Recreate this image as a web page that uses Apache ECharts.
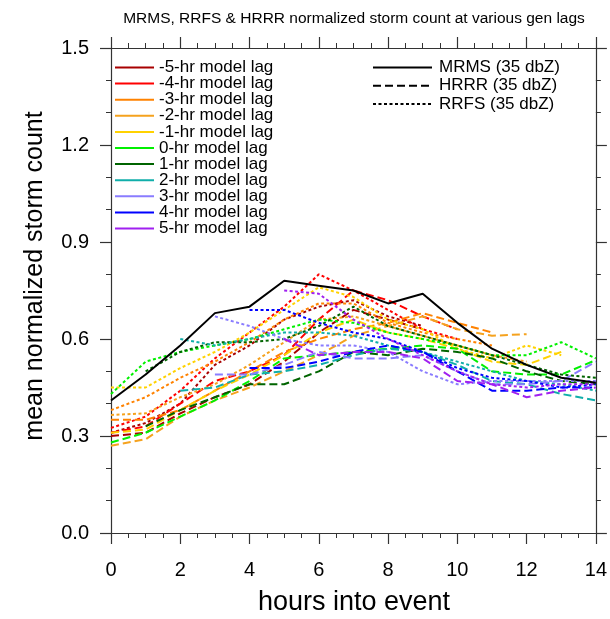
<!DOCTYPE html>
<html>
<head>
<meta charset="utf-8">
<script src="https://cdn.jsdelivr.net/npm/echarts@6/dist/echarts.min.js"></script>
<style>
html,body{margin:0;padding:0;background:#fff;}
#chart{width:610px;height:619px;}
</style>
</head>
<body>
<div id="chart"></div>
<script>
// ---------------- data ----------------
const hours = [0,1,2,3,4,5,6,7,8,9,10,11,12,13,14];
const mrms = [0.41,0.49,0.58,0.68,0.70,0.78,0.765,0.75,0.71,0.74,0.65,0.57,0.52,0.48,0.465];

const hrrrLagM5 = [0.30,0.31,0.37,0.42,0.46,0.53,0.62,0.69,0.66,0.63,null,null,null,null,null];
const rrfsLagM5 = [0.31,0.34,0.40,0.52,0.58,0.66,0.70,0.72,0.67,0.64,null,null,null,null,null];
const hrrrLagM4 = [0.31,0.33,0.40,0.47,0.50,0.55,0.66,0.75,0.72,0.67,0.63,null,null,null,null];
const rrfsLagM4 = [0.325,0.36,0.44,0.54,0.62,0.70,0.80,0.75,0.69,0.63,0.60,null,null,null,null];
const hrrrLagM3 = [0.35,0.35,0.38,0.44,0.50,0.56,0.60,0.63,0.65,0.68,0.65,0.62,null,null,null];
const rrfsLagM3 = [0.38,0.42,0.48,0.53,0.59,0.66,0.71,0.71,0.65,0.62,0.60,0.58,null,null,null];
const hrrrLagM2 = [0.27,0.29,0.36,0.41,0.45,0.50,0.55,0.61,0.64,0.67,0.63,0.61,0.615,null,null];
const rrfsLagM2 = [0.365,0.37,0.42,0.46,0.52,0.59,0.66,0.67,0.64,0.61,0.58,0.55,0.53,null,null];
const hrrrLagM1 = [0.31,0.32,0.38,0.44,0.49,0.55,0.62,0.66,0.62,0.60,0.57,0.53,0.52,0.56,null];
const rrfsLagM1 = [0.45,0.45,0.51,0.56,0.62,0.69,0.76,0.73,0.66,0.63,0.57,0.54,0.58,0.55,null];
const hrrrLag0  = [0.28,0.31,0.36,0.41,0.47,0.54,0.55,0.56,0.57,0.58,0.57,0.50,0.49,0.49,0.535];
const rrfsLag0  = [0.43,0.53,0.56,0.58,0.60,0.63,0.66,0.65,0.62,0.60,0.58,0.55,0.55,0.59,0.54];
const hrrrLag1  = [null,0.33,0.38,0.42,0.46,0.46,0.50,0.56,0.55,0.57,0.56,0.54,0.50,0.47,0.46];
const rrfsLag1  = [null,0.50,0.56,0.59,0.59,0.60,0.64,0.70,0.64,0.61,0.58,0.55,0.52,0.49,0.48];
const hrrrLag2  = [null,null,0.44,0.45,0.49,0.50,0.52,0.55,0.57,0.56,0.52,0.47,0.46,0.43,0.41];
const rrfsLag2  = [null,null,0.60,0.58,0.60,0.62,0.62,0.61,0.58,0.56,0.53,0.50,0.47,0.46,0.44];
const hrrrLag3  = [null,null,null,0.49,0.49,0.52,0.56,0.54,0.54,0.55,0.50,0.46,0.46,0.47,0.53];
const rrfsLag3  = [null,null,null,0.67,0.64,0.60,0.58,0.58,0.56,0.50,0.46,0.47,0.47,0.47,0.47];
const hrrrLag4  = [null,null,null,null,0.51,0.51,0.53,0.56,0.58,0.56,0.50,0.44,0.44,0.45,0.45];
const rrfsLag4  = [null,null,null,null,0.69,0.69,0.65,0.62,0.60,0.56,0.51,0.48,0.47,0.45,0.46];
const hrrrLag5  = [null,null,null,null,null,0.60,0.55,0.56,0.56,0.54,0.47,0.46,0.42,0.44,0.45];
const rrfsLag5  = [null,null,null,null,null,0.75,0.74,0.66,0.60,0.55,0.50,0.46,0.45,0.46,0.46];

const lagLabels = ['-5-hr model lag','-4-hr model lag','-3-hr model lag','-2-hr model lag','-1-hr model lag',
  '0-hr model lag','1-hr model lag','2-hr model lag','3-hr model lag','4-hr model lag','5-hr model lag'];
const hrrrByLag = [hrrrLagM5,hrrrLagM4,hrrrLagM3,hrrrLagM2,hrrrLagM1,hrrrLag0,hrrrLag1,hrrrLag2,hrrrLag3,hrrrLag4,hrrrLag5];
const rrfsByLag = [rrfsLagM5,rrfsLagM4,rrfsLagM3,rrfsLagM2,rrfsLagM1,rrfsLag0,rrfsLag1,rrfsLag2,rrfsLag3,rrfsLag4,rrfsLag5];
const modelLabels = ['MRMS (35 dbZ)','HRRR (35 dbZ)','RRFS (35 dbZ)'];
const xTicks = [0,2,4,6,8,10,12,14];
const yTicks = [0.0,0.3,0.6,0.9,1.2,1.5];

// ---------------- styles ----------------
const lagColors = ['#A80000','#FF0000','#FF8200','#F5A21E','#FFD200','#00F000','#006400','#10AEAA','#8A7CFF','#0000FF','#A020F0'];
const DASH = [8,4];
const DOT = [3,2.5];
const FONT = 'Liberation Sans, Arial, Helvetica, sans-serif';

function pts(arr){ return hours.map((h,i)=>[h,arr[i]]).filter(p=>p[1]!==null); }

const series = [];
series.push({name:modelLabels[0], type:'line', data:pts(mrms), symbol:'none', xAxisIndex:0, yAxisIndex:0,
  itemStyle:{color:'#000'}, lineStyle:{color:'#000', width:2, type:'solid'}, z:5});
for (let i=0;i<lagLabels.length;i++){
  series.push({name:'HRRR '+lagLabels[i], type:'line', data:pts(hrrrByLag[i]), symbol:'none',
    itemStyle:{color:lagColors[i]}, lineStyle:{color:lagColors[i], width:2, type:DASH}, z:3});
  series.push({name:'RRFS '+lagLabels[i], type:'line', data:pts(rrfsByLag[i]), symbol:'none',
    itemStyle:{color:lagColors[i]}, lineStyle:{color:lagColors[i], width:2, type:DOT}, z:3});
}
// legend-only entries
for (let i=0;i<lagLabels.length;i++){
  series.push({name:lagLabels[i], type:'line', data:[], symbol:'none', itemStyle:{color:lagColors[i]},
    lineStyle:{color:lagColors[i], width:2, type:'solid'}});
}
series.push({name:modelLabels[1], type:'line', data:[], symbol:'none', itemStyle:{color:'#000'}, lineStyle:{color:'#000', width:2, type:DASH}});
series.push({name:modelLabels[2], type:'line', data:[], symbol:'none', itemStyle:{color:'#000'}, lineStyle:{color:'#000', width:2, type:DOT}});

const axisColor = '#333';
function xAx(pos, labels){
  return {type:'value', min:xTicks[0], max:xTicks[xTicks.length-1], interval:2, position:pos,
    axisLine:{show:true, onZero:false, lineStyle:{color:axisColor, width:1.2}},
    axisTick:{show:true, inside:false, length:11, lineStyle:{color:axisColor, width:1.2}},
    minorTick:{show:true, splitNumber:4, length:5, lineStyle:{color:axisColor, width:1}},
    splitLine:{show:false}, minorSplitLine:{show:false},
    axisLabel:{show:labels, fontSize:20, color:'#000', fontFamily:FONT, margin:27}};
}
function yAx(pos, labels){
  return {type:'value', min:yTicks[0], max:yTicks[yTicks.length-1], interval:0.3, position:pos,
    axisLine:{show:true, onZero:false, lineStyle:{color:axisColor, width:1.2}},
    axisTick:{show:true, inside:false, length:11, lineStyle:{color:axisColor, width:1.2}},
    minorTick:{show:true, splitNumber:3, length:5, lineStyle:{color:axisColor, width:1}},
    splitLine:{show:false}, minorSplitLine:{show:false},
    axisLabel:{show:labels, fontSize:20, color:'#000', fontFamily:FONT, margin:22, formatter:v=>v.toFixed(1)}};
}

const legendItemStyle = {opacity:0, borderWidth:0};
const option = {
  animation:false,
  backgroundColor:'#fff',
  grid:{left:111, right:13, top:48, bottom:86, containLabel:false},
  xAxis:[xAx('bottom',true), xAx('top',false)],
  yAxis:[yAx('left',true), yAx('right',false)],
  legend:[
    {data:lagLabels, orient:'vertical', left:109, top:54, padding:5, itemWidth:39, itemHeight:12, itemGap:-0.9,
     selectedMode:false, itemStyle:legendItemStyle, textStyle:{fontSize:17, fontFamily:FONT, color:'#000'}},
    {data:modelLabels, orient:'vertical', left:367, top:54, padding:5, itemWidth:59, itemHeight:12, itemGap:1.2,
     selectedMode:false, itemStyle:legendItemStyle, textStyle:{fontSize:17, fontFamily:FONT, color:'#000', padding:[0,0,0,2]}}
  ],
  graphic:[
    {type:'text', x:354, y:19, style:{text:'MRMS, RRFS & HRRR normalized storm count at various gen lags',
      font:'15.5px '+FONT, fill:'#000', align:'center', verticalAlign:'middle'}},
    {type:'text', x:354, y:603, style:{text:'hours into event', font:'27px '+FONT, fill:'#000', align:'center', verticalAlign:'middle'}},
    {type:'text', x:35, y:276, rotation:Math.PI/2, style:{text:'mean normalized storm count', font:'25px '+FONT, fill:'#000', align:'center', verticalAlign:'middle'}}
  ],
  series:series
};
const chart = echarts.init(document.getElementById('chart'), null, {renderer:'canvas'});
chart.setOption(option);
</script>
</body>
</html>
